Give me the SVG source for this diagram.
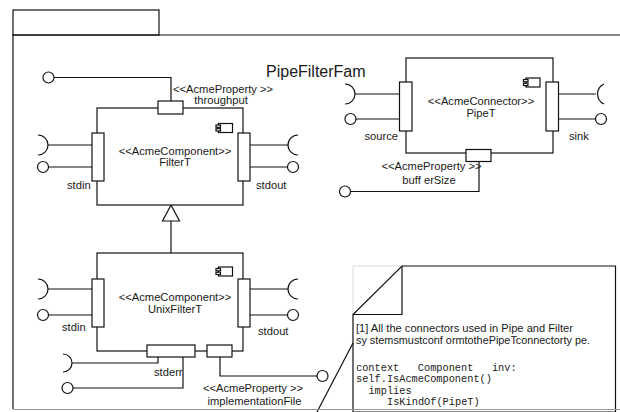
<svg xmlns="http://www.w3.org/2000/svg" width="620" height="412" viewBox="0 0 620 412">
<style>
.ln{fill:none;stroke:#111;stroke-width:1.2}
.bx{fill:#fff;stroke:#111;stroke-width:1.2}
.t{font-family:"Liberation Sans",Arial,sans-serif;font-size:11.2px;fill:#1a1a1a}
.c{text-anchor:middle}
.m{font-family:"Liberation Mono","Courier New",monospace;font-size:10.3px;fill:#222}
</style>
<defs>
<g id="icon">
<rect x="2.5" y="0" width="14" height="9" class="bx"/>
<rect x="0" y="1.5" width="4.5" height="2.3" class="bx" stroke-width="0.9"/>
<rect x="0" y="5.2" width="4.5" height="2.3" class="bx" stroke-width="0.9"/>
</g>
</defs>
<rect width="620" height="412" fill="#fff"/>

<g id="frame">
<rect x="13" y="10" width="146" height="25" class="ln"/>
<path d="M13,409 V35 H620" class="ln"/>
<text x="266" y="77" class="t" style="font-size:16px">PipeFilterFam</text>
</g>

<g id="connectors">
<path d="M54,77.5 H171 V101" class="ln"/>
<path d="M171,205 L162.5,221 H179.5 Z" class="bx"/>
<path d="M171,221 V253" class="ln"/>
</g>

<g id="FilterT">
<rect x="97" y="108" width="146" height="97" class="bx"/>
<rect x="158" y="101" width="25" height="13" class="bx"/>
<circle cx="48.5" cy="77.5" r="5.5" class="ln"/>
<rect x="92" y="133" width="12" height="48" class="bx"/>
<rect x="238" y="133" width="12" height="48" class="bx"/>
<path d="M48,145 H92 M48.5,167 H92 M250,145 H288 M250,167 H287.5" class="ln"/>
<path d="M38,135 A10,10 0 0 1 38,155" class="ln"/>
<circle cx="43" cy="167" r="5.5" class="ln"/>
<path d="M298,135 A10,10 0 0 0 298,155" class="ln"/>
<circle cx="293" cy="167" r="5.5" class="ln"/>
<use href="#icon" x="216" y="123.5"/>
<text x="173" y="93" class="t">&lt;&lt;AcmeProperty &gt;&gt;</text>
<text x="221" y="104" class="t c">throughput</text>
<text x="175" y="154.5" class="t c">&lt;&lt;AcmeComponent&gt;&gt;</text>
<text x="175" y="165.5" class="t c">FilterT</text>
<text x="67" y="189" class="t">stdin</text>
<text x="256" y="189" class="t">stdout</text>
</g>

<g id="UnixFilterT">
<rect x="97" y="253" width="146" height="98" class="bx"/>
<rect x="92" y="279" width="12" height="48" class="bx"/>
<rect x="238" y="279" width="12" height="48" class="bx"/>
<path d="M48,289 H92 M48.5,315 H92 M250,289 H288 M250,315 H287.5" class="ln"/>
<path d="M38,279 A10,10 0 0 1 38,299" class="ln"/>
<circle cx="43" cy="315" r="5.5" class="ln"/>
<path d="M298,279 A10,10 0 0 0 298,299" class="ln"/>
<circle cx="293" cy="315" r="5.5" class="ln"/>
<path d="M158,357 V363 H72 M183,357 V388 H73 M220,357 V376 H317" class="ln"/>
<path d="M63,354 A9,9 0 0 1 63,372" class="ln"/>
<circle cx="67.5" cy="388" r="5.5" class="ln"/>
<circle cx="322.5" cy="376" r="5.5" class="ln"/>
<rect x="147" y="345" width="48" height="12" class="bx"/>
<rect x="207" y="345" width="25" height="12" class="bx"/>
<use href="#icon" x="216" y="267"/>
<text x="175" y="301" class="t c">&lt;&lt;AcmeComponent&gt;&gt;</text>
<text x="175" y="312.5" class="t c">UnixFilterT</text>
<text x="62" y="331" class="t">stdin</text>
<text x="258" y="335" class="t">stdout</text>
<text x="154" y="375.5" class="t">stderr</text>
<text x="253" y="392" class="t c">&lt;&lt;AcmeProperty &gt;&gt;</text>
<text x="254.5" y="404.5" class="t c">implementationFile</text>
</g>

<g id="PipeT">
<rect x="406" y="58" width="147" height="95" class="bx"/>
<rect x="399.5" y="82" width="12.5" height="49" class="bx"/>
<rect x="546" y="82" width="12.5" height="49" class="bx"/>
<path d="M355,94 H399.5 M356,119 H399.5 M558.5,94 H596 M558.5,119 H595.5" class="ln"/>
<path d="M345,84 A10,10 0 0 1 345,104" class="ln"/>
<circle cx="350.5" cy="119" r="5.5" class="ln"/>
<path d="M604,84 A11,11 0 0 0 604,104" class="ln"/>
<circle cx="601" cy="119" r="5.5" class="ln"/>
<path d="M479,161.5 V191.5 H350.5" class="ln"/>
<circle cx="345" cy="191.5" r="5.5" class="ln"/>
<rect x="466" y="149.5" width="25" height="12" class="bx"/>
<use href="#icon" x="523.5" y="78"/>
<text x="481" y="105" class="t c">&lt;&lt;AcmeConnector&gt;&gt;</text>
<text x="481" y="117" class="t c">PipeT</text>
<text x="398" y="139.5" class="t" text-anchor="end">source</text>
<text x="569" y="139.5" class="t">sink</text>
<text x="431.5" y="170" class="t c">&lt;&lt;AcmeProperty &gt;&gt;</text>
<text x="429" y="184" class="t c">buff erSize</text>
</g>

<g id="note">
<path d="M353,315 V266 H402" fill="none" stroke="#ddd" stroke-width="1"/>
<path d="M353,412 V314.5 L402,266 H615.5 V412 Z" class="bx"/>
<path d="M353,314.5 H402 V266" class="ln"/>
<path d="M353,343 L317,412" class="ln"/>
<text x="356" y="331.5" class="t" style="font-size:11px" textLength="217" lengthAdjust="spacingAndGlyphs">[1] All the connectors used in Pipe and Filter</text>
<text x="356" y="344" class="t" style="font-size:11px" textLength="234" lengthAdjust="spacingAndGlyphs">sy stemsmustconf ormtothePipeTconnectorty pe.</text>
<text x="356" y="370.5" class="m" xml:space="preserve">context   Component   inv:</text>
<text x="356" y="382" class="m">self.IsAcmeComponent()</text>
<text x="368.4" y="393.5" class="m">implies</text>
<text x="387" y="405" class="m">IsKindOf(PipeT)</text>
</g>

<path d="M13,409.5 H620" fill="none" stroke="#999" stroke-width="1.2"/>
</svg>
